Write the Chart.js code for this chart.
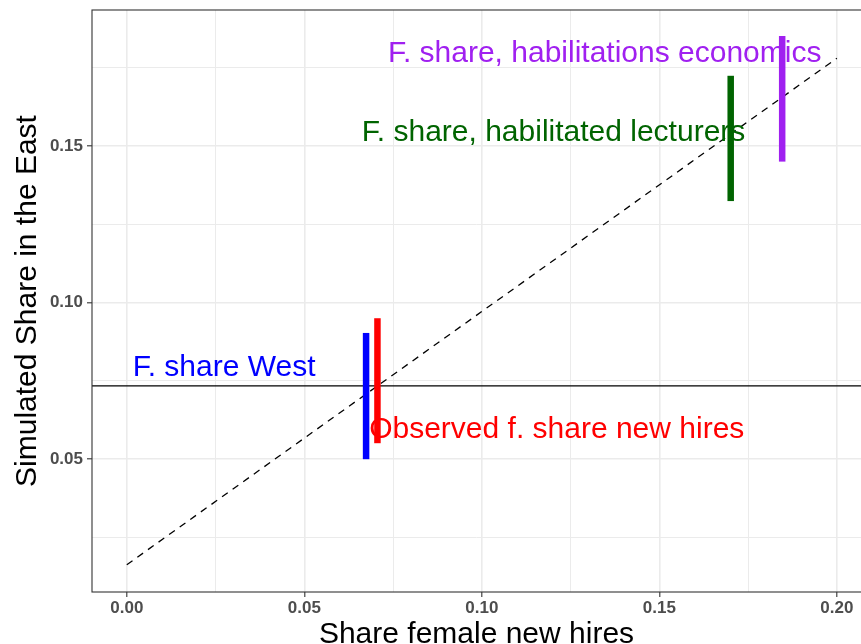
<!DOCTYPE html>
<html>
<head>
<meta charset="utf-8">
<script src="https://cdn.jsdelivr.net/npm/chart.js@4"></script>
<style>
  body { margin: 0; background: #fff; }
  canvas { display: block; }
</style>
</head>
<body>
<canvas id="chart" width="861" height="644"></canvas>
<script>
// simulated ranges, one vertical bar each
const barNames = ["F. share West", "Observed f. share new hires", "F. share, habilitated lecturers", "F. share, habilitations economics"];
const barX = [0.0674, 0.0706, 0.1701, 0.1846];
const barLow = [0.0500, 0.0551, 0.1324, 0.1450];
const barHigh = [0.0903, 0.0950, 0.1724, 0.1851];
const barColors = ["#0000ff", "#ff0000", "#006400", "#a020f0"];

// where the labels sit (centre x, baseline y)
const labelX = [0.0274, 0.1211, 0.1202, 0.1346];
const labelY = [0.0767, 0.0567, 0.1516, 0.1767];

// reference lines
const hlineY = 0.0734;
const diagX = [0, 0.2];
const diagY = [0.0163, 0.178];

// grid / ticks
const xGrid = [0, 0.025, 0.05, 0.075, 0.1, 0.125, 0.15, 0.175, 0.2];
const yGrid = [0.025, 0.05, 0.075, 0.1, 0.125, 0.15, 0.175];
const xTickLabels = ["0.00", "0.05", "0.10", "0.15", "0.20"];
const yTickLabels = ["0.05", "0.10", "0.15"];

const xMin = -0.0098, xMax = 0.2068;
const yMin = 0.0076, yMax = 0.1934;

const FONT = '"Liberation Sans", Arial, Helvetica, sans-serif';
Chart.defaults.font.family = FONT;

const isMajor = v => Math.abs(v * 20 - Math.round(v * 20)) < 1e-6;
const tickText = (labels) => (v) => {
  const s = Number(v).toFixed(2);
  return isMajor(v) && labels.includes(s) ? s : "";
};

const datasets = [];
barX.forEach((v, i) => {
  datasets.push({
    data: [{ x: v, y: barLow[i] }, { x: v, y: barHigh[i] }],
    borderColor: barColors[i],
    borderWidth: 6.5,
    borderCapStyle: "butt"
  });
});
datasets.push({
  data: diagX.map((v, i) => ({ x: v, y: diagY[i] })),
  borderColor: "#000",
  borderWidth: 1.3,
  borderDash: [7, 6]
});
datasets.push({
  data: [{ x: xMin, y: hlineY }, { x: xMax, y: hlineY }],
  borderColor: "#000",
  borderWidth: 1.3
});

const gridOpts = {
  color: "#ebebeb",
  lineWidth: c => (c.tick && isMajor(c.tick.value) ? 1.6 : 1.0),
  tickColor: c => (c.tick && isMajor(c.tick.value) ? "#333333" : "rgba(0,0,0,0)"),
  tickWidth: 1.1,
  tickLength: 5
};

const labelPlugin = {
  id: "textLabels",
  afterDatasetsDraw(chart) {
    const { ctx, scales: { x, y } } = chart;
    ctx.save();
    ctx.font = "30px " + FONT;
    ctx.textAlign = "center";
    ctx.textBaseline = "alphabetic";
    barNames.forEach((t, i) => {
      ctx.fillStyle = barColors[i];
      ctx.fillText(t, x.getPixelForValue(labelX[i]), y.getPixelForValue(labelY[i]));
    });
    ctx.restore();
  }
};

const borderPlugin = {
  id: "panelBorder",
  afterDraw(chart) {
    const { ctx, chartArea: a } = chart;
    ctx.save();
    ctx.strokeStyle = "#333333";
    ctx.lineWidth = 1.1;
    ctx.strokeRect(a.left, a.top, a.right - a.left + 5, a.bottom - a.top);
    ctx.restore();
  }
};

new Chart(document.getElementById("chart"), {
  type: "line",
  data: { datasets },
  options: {
    responsive: false,
    animation: false,
    elements: { point: { radius: 0 } },
    layout: { padding: { top: 10, right: 0, left: 0, bottom: 0 } },
    plugins: { legend: { display: false }, tooltip: { enabled: false } },
    scales: {
      x: {
        type: "linear",
        min: xMin,
        max: xMax,
        afterBuildTicks: s => { s.ticks = xGrid.map(v => ({ value: v })); },
        afterFit: s => { s.height = 52; s.paddingLeft = 0; s.paddingRight = 0; },
        grid: gridOpts,
        border: { display: false },
        ticks: {
          autoSkip: false,
          maxRotation: 0,
          padding: 1,
          color: "#4d4d4d",
          font: { size: 17, weight: "bold" },
          callback: tickText(xTickLabels)
        },
        title: {
          display: true,
          text: "Share female new hires",
          color: "#000",
          font: { size: 30, lineHeight: 0.83 },
          padding: { top: 0, bottom: -3 }
        }
      },
      y: {
        type: "linear",
        min: yMin,
        max: yMax,
        afterBuildTicks: s => { s.ticks = yGrid.map(v => ({ value: v })); },
        afterFit: s => { s.width = 92; s.paddingTop = 0; s.paddingBottom = 0; },
        grid: gridOpts,
        border: { display: false },
        ticks: {
          autoSkip: false,
          padding: 4,
          color: "#4d4d4d",
          font: { size: 17, weight: "bold" },
          callback: tickText(yTickLabels)
        },
        title: {
          display: true,
          text: "Simulated Share in the East",
          color: "#000",
          font: { size: 30, lineHeight: 0.83 },
          padding: { top: 15, bottom: 0 }
        }
      }
    }
  },
  plugins: [labelPlugin, borderPlugin]
});
</script>
</body>
</html>
